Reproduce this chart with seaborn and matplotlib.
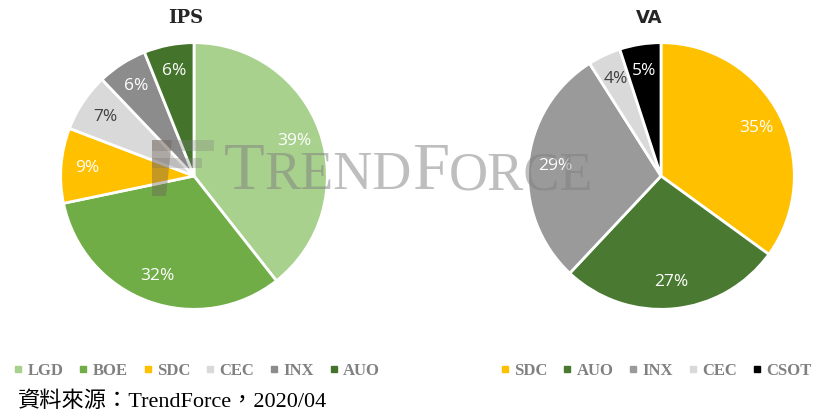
import matplotlib
matplotlib.use("Agg")
import matplotlib.pyplot as plt
from matplotlib.lines import Line2D
from matplotlib.patches import Rectangle, Polygon
import seaborn as sns

# 資料
ips_labels = ['LGD', 'BOE', 'SDC', 'CEC', 'INX', 'AUO']
ips_values = [39, 32, 9, 7, 6, 6]
ips_colors = ['#a9d18e', '#70ad47', '#ffc000', '#d9d9d9', '#8c8c8c', '#44742c']
ips_text = ['white', 'white', 'white', '#404040', 'white', 'white']

va_labels = ['SDC', 'AUO', 'INX', 'CEC', 'CSOT']
va_values = [35, 27, 29, 4, 5]
va_colors = ['#ffc000', '#4a7a32', '#9a9a9a', '#d9d9d9', '#000000']
va_text = ['white', 'white', 'white', '#404040', 'white']

sns.set_theme(style="white")
plt.rcParams['font.family'] = ['DejaVu Sans']

W, H = 821, 416
fig = plt.figure(figsize=(W / 100, H / 100), dpi=100)


def draw_pie(cx, cy, r, values, colors, tcolors, title, title_font, title_x):
    ax = fig.add_axes([(cx - r) / W, (H - cy - r) / H, 2 * r / W, 2 * r / H])
    wedges, texts, autotexts = ax.pie(
        values, colors=sns.color_palette(colors), startangle=90, counterclock=False,
        autopct='%d%%', pctdistance=0.8,
        wedgeprops=dict(edgecolor='white', linewidth=2),
        textprops=dict(fontsize=12.5, family='Open Sans'))
    for t, c in zip(autotexts, tcolors):
        t.set_color(c)
    ax.set_xlim(-1.02, 1.02)
    ax.set_ylim(-1.02, 1.02)
    ax.set_aspect('equal')
    fig.text(title_x / W, (H - 18) / H, title, ha='center', va='center',
             fontsize=13, fontweight='bold', family=title_font)
    return ax


draw_pie(194, 176, 136, ips_values, ips_colors, ips_text, 'IPS', 'DejaVu Serif', 186)
draw_pie(661, 176, 136, va_values, va_colors, va_text, 'VA', 'DejaVu Sans', 649)

# 浮水印 logo
wm_c = '#7f7f7f'
for x0, y0, w, h in [(152, 140, 62, 11), (152, 158, 50, 10)]:
    fig.patches.append(Rectangle((x0 / W, (H - y0 - h) / H), w / W, h / H,
                                 transform=fig.transFigure, color=wm_c, alpha=0.3,
                                 zorder=10, linewidth=0))
fig.patches.append(Polygon([(152 / W, (H - 140) / H), (172 / W, (H - 140) / H),
                            (166 / W, (H - 196) / H), (152 / W, (H - 196) / H)],
                           closed=True, transform=fig.transFigure, color='#6e5f55',
                           alpha=0.4, zorder=10, linewidth=0))

# 浮水印 TRENDFORCE
wm = dict(family='Liberation Serif', color=wm_c, alpha=0.5, va='baseline', zorder=11)
renderer = fig.canvas.get_renderer()
x = 224
for part, size in [('T', 48), ('REND', 39), ('F', 48), ('ORCE', 39)]:
    t = fig.text(x / W, (H - 189) / H, part, fontsize=size, **wm)
    x += t.get_window_extent(renderer).width


def draw_legend(labels, colors, cx):
    handles = [Line2D([], [], marker='s', linestyle='', markersize=5,
                      markerfacecolor=c, markeredgecolor=c) for c in colors]
    fig.legend(handles, labels, loc='center', bbox_to_anchor=(cx / W, (H - 371) / H),
               ncol=len(labels), frameon=False, handlelength=0.5, handletextpad=0.3,
               columnspacing=0.95, prop=dict(family='Liberation Serif', size=12, weight='bold'),
               labelcolor='#808080')


draw_legend(ips_labels, ips_colors, 197)
draw_legend(va_labels, va_colors, 656)

fig.text(18 / W, (H - 402) / H, '資料來源：TrendForce，2020/04', ha='left', va='center',
         fontsize=16, family=['Liberation Serif', 'Noto Sans CJK TC'], color='black')

fig.savefig('out.png', dpi=100, facecolor='white')
